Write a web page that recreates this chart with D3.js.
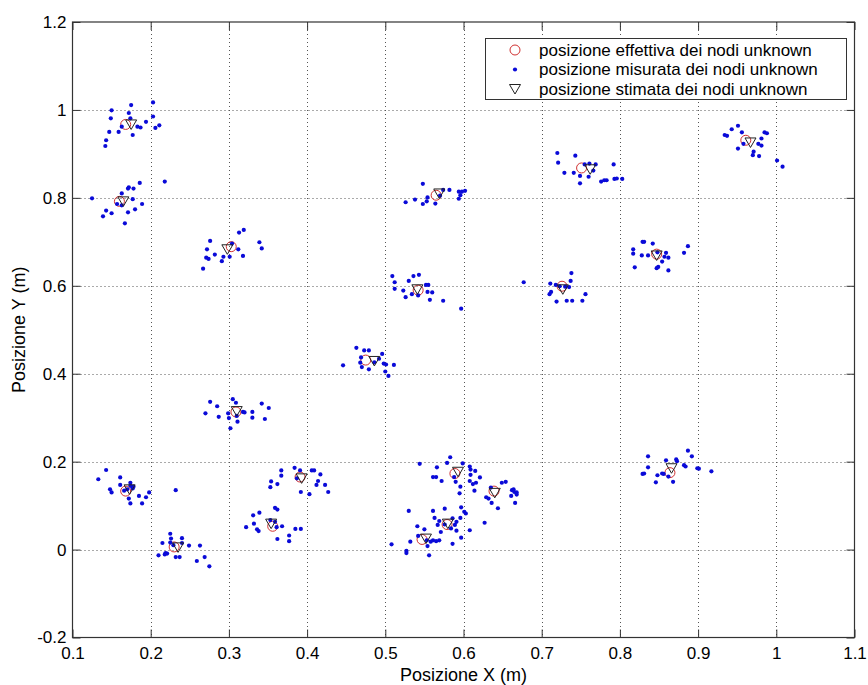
<!DOCTYPE html>
<html>
<head>
<meta charset="utf-8">
<script src="https://cdn.jsdelivr.net/npm/d3@7"></script>
<style>
  html, body { margin: 0; padding: 0; background: #fff; }
  svg { display: block; font-family: "Liberation Sans", Arial, Helvetica, sans-serif; }
</style>
</head>
<body>
<svg id="chart" width="868" height="685"></svg>
<script>
// ---- DATA ----
const xTicks = [0.1, 0.2, 0.3, 0.4, 0.5, 0.6, 0.7, 0.8, 0.9, 1.0, 1.1];
const xTickLabels = ["0.1", "0.2", "0.3", "0.4", "0.5", "0.6", "0.7", "0.8", "0.9", "1", "1.1"];
const yTicks = [-0.2, 0, 0.2, 0.4, 0.6, 0.8, 1.0, 1.2];
const yTickLabels = ["-0.2", "0", "0.2", "0.4", "0.6", "0.8", "1", "1.2"];

const legendLabels = [
  "posizione effettiva dei nodi unknown",
  "posizione misurata dei nodi unknown",
  "posizione stimata dei nodi unknown"
];
const xLabel = "Posizione X (m)";
const yLabel = "Posizione Y (m)";

// actual (true) positions of unknown nodes
const actualPos = [
  [0.168, 0.967], [0.160, 0.792], [0.303, 0.689], [0.565, 0.806], [0.751, 0.868],
  [0.961, 0.931], [0.542, 0.590], [0.726, 0.599], [0.847, 0.672], [0.475, 0.431],
  [0.309, 0.313], [0.168, 0.133], [0.230, 0.006], [0.356, 0.053], [0.391, 0.165],
  [0.547, 0.023], [0.579, 0.057], [0.589, 0.173], [0.639, 0.133], [0.864, 0.175]
];

// estimated positions of unknown nodes
const estimatedPos = [
  [0.175, 0.967], [0.165, 0.792], [0.298, 0.683], [0.569, 0.810], [0.762, 0.865],
  [0.967, 0.926], [0.541, 0.592], [0.727, 0.592], [0.847, 0.669], [0.486, 0.429],
  [0.310, 0.315], [0.173, 0.137], [0.235, 0.005], [0.354, 0.059], [0.393, 0.162],
  [0.552, 0.025], [0.580, 0.059], [0.593, 0.177], [0.640, 0.129], [0.866, 0.185]
];

// measured positions (grouped by node)
const measuredPos = [
  [[0.150,0.999],[0.175,1.011],[0.203,1.017],[0.149,0.981],[0.172,0.993],[0.203,0.985],[0.174,0.981],[0.194,0.973],[0.147,0.950],[0.159,0.950],[0.183,0.962],[0.187,0.960],[0.206,0.959],[0.211,0.965],[0.177,0.943],[0.143,0.931],[0.142,0.918],[0.163,0.962]],
  [[0.125,0.799],[0.171,0.821],[0.172,0.824],[0.163,0.810],[0.178,0.821],[0.186,0.834],[0.218,0.837],[0.177,0.797],[0.143,0.771],[0.150,0.765],[0.139,0.758],[0.189,0.786],[0.180,0.774],[0.171,0.767],[0.167,0.742],[0.157,0.786],[0.163,0.783]],
  [[0.313,0.721],[0.319,0.727],[0.276,0.702],[0.339,0.699],[0.342,0.685],[0.272,0.683],[0.282,0.671],[0.271,0.664],[0.274,0.661],[0.293,0.666],[0.291,0.656],[0.267,0.639],[0.304,0.696],[0.312,0.683],[0.318,0.668],[0.301,0.666]],
  [[0.548,0.832],[0.574,0.818],[0.582,0.818],[0.594,0.814],[0.598,0.814],[0.602,0.816],[0.596,0.806],[0.594,0.798],[0.554,0.801],[0.538,0.796],[0.526,0.790],[0.548,0.786],[0.553,0.792],[0.564,0.787],[0.570,0.805]],
  [[0.720,0.902],[0.721,0.880],[0.729,0.857],[0.743,0.896],[0.741,0.857],[0.749,0.850],[0.749,0.833],[0.755,0.876],[0.761,0.878],[0.769,0.876],[0.766,0.862],[0.760,0.848],[0.776,0.837],[0.780,0.840],[0.783,0.840],[0.792,0.876],[0.793,0.843],[0.796,0.844],[0.803,0.843]],
  [[0.951,0.964],[0.943,0.956],[0.956,0.949],[0.934,0.943],[0.937,0.941],[0.985,0.949],[0.988,0.947],[0.981,0.935],[0.977,0.923],[0.981,0.919],[0.958,0.923],[0.951,0.912],[0.971,0.905],[0.970,0.897],[0.978,0.895],[1.001,0.885],[1.008,0.871]],
  [[0.509,0.622],[0.512,0.608],[0.512,0.593],[0.530,0.611],[0.536,0.622],[0.543,0.625],[0.523,0.589],[0.526,0.574],[0.534,0.581],[0.542,0.578],[0.552,0.602],[0.555,0.602],[0.554,0.586],[0.560,0.585],[0.557,0.568],[0.574,0.566],[0.597,0.548]],
  [[0.677,0.608],[0.711,0.605],[0.738,0.629],[0.737,0.611],[0.735,0.597],[0.712,0.586],[0.710,0.581],[0.719,0.564],[0.732,0.566],[0.739,0.566],[0.723,0.599],[0.730,0.598],[0.756,0.581],[0.752,0.566],[0.718,0.602]],
  [[0.829,0.700],[0.831,0.700],[0.842,0.696],[0.817,0.683],[0.817,0.673],[0.828,0.669],[0.836,0.669],[0.848,0.676],[0.859,0.675],[0.857,0.666],[0.862,0.664],[0.854,0.655],[0.849,0.643],[0.847,0.640],[0.819,0.642],[0.862,0.635],[0.882,0.675],[0.887,0.690]],
  [[0.463,0.459],[0.473,0.453],[0.479,0.453],[0.496,0.445],[0.492,0.434],[0.469,0.437],[0.468,0.425],[0.470,0.415],[0.479,0.410],[0.446,0.419],[0.498,0.423],[0.501,0.421],[0.511,0.420],[0.500,0.405],[0.504,0.395],[0.486,0.426]],
  [[0.276,0.336],[0.285,0.326],[0.305,0.342],[0.309,0.334],[0.342,0.332],[0.351,0.322],[0.270,0.310],[0.287,0.302],[0.299,0.310],[0.300,0.299],[0.310,0.304],[0.318,0.313],[0.320,0.312],[0.330,0.313],[0.330,0.300],[0.346,0.297],[0.302,0.276],[0.311,0.291]],
  [[0.143,0.181],[0.133,0.160],[0.161,0.164],[0.161,0.147],[0.174,0.152],[0.174,0.145],[0.178,0.143],[0.177,0.139],[0.170,0.137],[0.148,0.137],[0.150,0.130],[0.166,0.134],[0.172,0.116],[0.174,0.105],[0.185,0.122],[0.189,0.105],[0.194,0.119],[0.198,0.130]],
  [[0.232,0.135],[0.225,0.036],[0.226,0.025],[0.240,0.026],[0.215,0.015],[0.225,0.016],[0.240,0.015],[0.229,0.010],[0.249,0.009],[0.263,0.009],[0.219,-0.008],[0.221,-0.009],[0.218,-0.011],[0.210,-0.013],[0.232,-0.017],[0.237,-0.017],[0.259,-0.026],[0.269,-0.017],[0.275,-0.038]],
  [[0.359,0.095],[0.362,0.091],[0.331,0.078],[0.339,0.084],[0.332,0.059],[0.322,0.051],[0.336,0.046],[0.338,0.042],[0.353,0.067],[0.359,0.063],[0.361,0.051],[0.368,0.053],[0.362,0.024],[0.377,0.032],[0.377,0.019],[0.385,0.047],[0.392,0.047]],
  [[0.367,0.180],[0.367,0.168],[0.354,0.155],[0.362,0.149],[0.353,0.142],[0.384,0.186],[0.391,0.180],[0.406,0.180],[0.409,0.180],[0.417,0.171],[0.414,0.156],[0.412,0.147],[0.423,0.147],[0.427,0.131],[0.403,0.126],[0.392,0.131],[0.387,0.162]],
  [[0.508,0.012],[0.532,0.018],[0.541,0.053],[0.550,0.046],[0.542,0.031],[0.553,0.021],[0.561,0.021],[0.565,0.019],[0.569,0.021],[0.554,0.008],[0.527,-0.003],[0.527,-0.008],[0.556,-0.013],[0.558,0.018]],
  [[0.530,0.088],[0.561,0.088],[0.576,0.093],[0.563,0.072],[0.569,0.065],[0.567,0.056],[0.586,0.071],[0.591,0.063],[0.596,0.072],[0.597,0.096],[0.601,0.086],[0.603,0.082],[0.571,0.040],[0.584,0.048],[0.589,0.056],[0.597,0.027],[0.591,0.043],[0.586,0.013],[0.608,0.044],[0.576,0.057],[0.627,0.061]],
  [[0.544,0.195],[0.566,0.187],[0.579,0.197],[0.583,0.210],[0.561,0.165],[0.565,0.165],[0.572,0.156],[0.599,0.196],[0.608,0.189],[0.609,0.182],[0.615,0.179],[0.609,0.170],[0.621,0.164],[0.616,0.152],[0.612,0.149],[0.608,0.156],[0.614,0.134],[0.590,0.154],[0.596,0.143],[0.595,0.128],[0.588,0.165]],
  [[0.629,0.119],[0.632,0.116],[0.635,0.141],[0.649,0.152],[0.654,0.154],[0.662,0.135],[0.664,0.137],[0.665,0.131],[0.668,0.130],[0.668,0.125],[0.661,0.122],[0.666,0.106],[0.644,0.094],[0.636,0.106]],
  [[0.836,0.212],[0.836,0.187],[0.831,0.173],[0.829,0.172],[0.848,0.169],[0.846,0.153],[0.854,0.173],[0.856,0.172],[0.859,0.203],[0.862,0.166],[0.868,0.154],[0.872,0.205],[0.873,0.201],[0.882,0.192],[0.884,0.189],[0.887,0.225],[0.892,0.212],[0.899,0.185],[0.901,0.184],[0.917,0.178]]
];

// ---- LAYOUT ----
const W = 868, H = 685;
const plot = { left: 72.5, right: 854.5, top: 22, bottom: 637.5 };
const svg = d3.select("#chart");

const x = d3.scaleLinear().domain([0.1, 1.1]).range([plot.left, plot.right]);
const y = d3.scaleLinear().domain([-0.2, 1.2]).range([plot.bottom, plot.top]);

const axisColor = "#333";
const tickFont = 17;

// background
svg.append("rect").attr("x", 0).attr("y", 0).attr("width", W).attr("height", H).attr("fill", "#fff");

// grid
const grid = svg.append("g").attr("class", "grid")
  .attr("stroke", "#555").attr("stroke-width", 1).attr("stroke-dasharray", "1,3");
grid.selectAll("line.gx").data(xTicks.slice(1, -1)).join("line")
  .attr("x1", d => Math.round(x(d)) + 0.5).attr("x2", d => Math.round(x(d)) + 0.5)
  .attr("y1", plot.top).attr("y2", plot.bottom);
grid.selectAll("line.gy").data(yTicks.slice(1, -1)).join("line")
  .attr("y1", d => Math.round(y(d)) + 0.5).attr("y2", d => Math.round(y(d)) + 0.5)
  .attr("x1", plot.left).attr("x2", plot.right);

// axes
function styleAxis(g) {
  g.select(".domain").remove();
  g.selectAll(".tick line").attr("stroke", axisColor);
  g.selectAll(".tick text").attr("fill", "#000").attr("font-size", tickFont)
    .attr("font-family", "Liberation Sans, Arial, sans-serif");
}
const xFmt = d => xTickLabels[xTicks.findIndex(t => Math.abs(t - d) < 1e-9)];
const yFmt = d => yTickLabels[yTicks.findIndex(t => Math.abs(t - d) < 1e-9)];

svg.append("g").attr("transform", `translate(0,${plot.bottom})`)
  .call(d3.axisBottom(x).tickValues(xTicks).tickFormat(xFmt).tickSize(-8).tickPadding(9))
  .call(styleAxis);
svg.append("g").attr("transform", `translate(0,${plot.top})`)
  .call(d3.axisTop(x).tickValues(xTicks).tickFormat("").tickSize(-8))
  .call(styleAxis);
svg.append("g").attr("transform", `translate(${plot.left},0)`)
  .call(d3.axisLeft(y).tickValues(yTicks).tickFormat(yFmt).tickSize(-8).tickPadding(6))
  .call(styleAxis);
svg.append("g").attr("transform", `translate(${plot.right},0)`)
  .call(d3.axisRight(y).tickValues(yTicks).tickFormat("").tickSize(-8))
  .call(styleAxis);

// box
svg.append("rect")
  .attr("x", plot.left).attr("y", plot.top)
  .attr("width", plot.right - plot.left).attr("height", plot.bottom - plot.top)
  .attr("fill", "none").attr("stroke", axisColor).attr("stroke-width", 1.2);

// markers
const circleColor = "#d03030";
const dotColor = "#0a0ad8";
const triColor = "#222";
const triPath = (cx, cy) => `M${cx - 5.5},${cy - 4.5}L${cx + 5.5},${cy - 4.5}L${cx},${cy + 5}Z`;

const data = svg.append("g").attr("class", "data");
data.selectAll("circle.actual").data(actualPos).join("circle")
  .attr("class", "actual")
  .attr("cx", d => x(d[0])).attr("cy", d => y(d[1])).attr("r", 5)
  .attr("fill", "none").attr("stroke", circleColor).attr("stroke-width", 1);

data.selectAll("g.meas").data(measuredPos).join("g").attr("class", "meas")
  .selectAll("circle").data(d => d).join("circle")
  .attr("cx", d => x(d[0])).attr("cy", d => y(d[1])).attr("r", 2.1)
  .attr("fill", dotColor);

data.selectAll("path.est").data(estimatedPos).join("path")
  .attr("class", "est")
  .attr("d", d => triPath(x(d[0]), y(d[1])))
  .attr("fill", "none").attr("stroke", triColor).attr("stroke-width", 1);

// legend
const lg = svg.append("g").attr("class", "legend");
lg.append("rect").attr("x", 485.5).attr("y", 38.5).attr("width", 361).attr("height", 61)
  .attr("fill", "#fff").attr("stroke", axisColor).attr("stroke-width", 1);
const rowY = [50, 69.5, 89];
const symX = 515;
lg.append("circle").attr("cx", symX).attr("cy", rowY[0]).attr("r", 5)
  .attr("fill", "none").attr("stroke", circleColor);
lg.append("circle").attr("cx", symX).attr("cy", rowY[1]).attr("r", 2.1).attr("fill", dotColor);
lg.append("path").attr("d", triPath(symX, rowY[2])).attr("fill", "none").attr("stroke", triColor);
lg.selectAll("text").data(legendLabels).join("text")
  .attr("x", 539).attr("y", (d, i) => rowY[i]).attr("dy", "0.35em")
  .attr("font-size", 17).attr("fill", "#000").text(d => d);

// axis labels
svg.append("text").attr("x", (plot.left + plot.right) / 2).attr("y", 681)
  .attr("text-anchor", "middle").attr("font-size", 18).attr("fill", "#000").text(xLabel);
svg.append("text").attr("transform", `translate(25,${(plot.top + plot.bottom) / 2}) rotate(-90)`)
  .attr("text-anchor", "middle").attr("font-size", 18).attr("fill", "#000").text(yLabel);
</script>
</body>
</html>
